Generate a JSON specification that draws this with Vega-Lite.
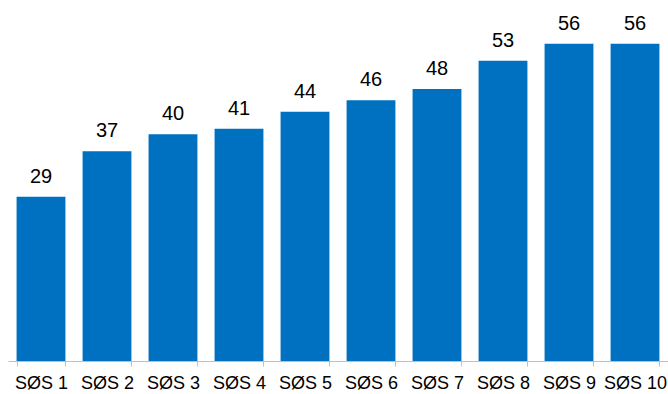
{
  "$schema": "https://vega.github.io/schema/vega-lite/v6.json",
  "width": 660,
  "height": 340,
  "autosize": "none",
  "padding": {"left": 8, "top": 21, "right": 0, "bottom": 33},
  "background": "white",
  "config": {"view": {"stroke": null}, "font": "Liberation Sans"},
  "data": {"values": [
    {"cat": "SØS 1", "v": 29},
    {"cat": "SØS 2", "v": 37},
    {"cat": "SØS 3", "v": 40},
    {"cat": "SØS 4", "v": 41},
    {"cat": "SØS 5", "v": 44},
    {"cat": "SØS 6", "v": 46},
    {"cat": "SØS 7", "v": 48},
    {"cat": "SØS 8", "v": 53},
    {"cat": "SØS 9", "v": 56},
    {"cat": "SØS 10", "v": 56}
  ]},
  "encoding": {
    "x": {"field": "cat", "type": "nominal", "sort": null,
      "scale": {"paddingInner": 0.26, "paddingOuter": 0.13},
      "axis": {"title": null, "labelAngle": 0, "labelFontSize": 18, "labelColor": "#000000",
        "labelFont": "Liberation Sans", "domainColor": "#bfbfbf", "tickColor": "#bfbfbf",
        "tickSize": 5, "tickBand": "extent", "labelPadding": 8, "grid": false}},
    "y": {"field": "v", "type": "quantitative", "scale": {"domain": [0, 60]}, "axis": null}
  },
  "layer": [
    {"mark": {"type": "bar", "color": "#0070C0"}},
    {"mark": {"type": "text", "baseline": "alphabetic", "dy": -14, "fontSize": 20, "font": "Liberation Sans", "color": "#000000"},
      "encoding": {"text": {"field": "v", "type": "quantitative"}}}
  ]
}
